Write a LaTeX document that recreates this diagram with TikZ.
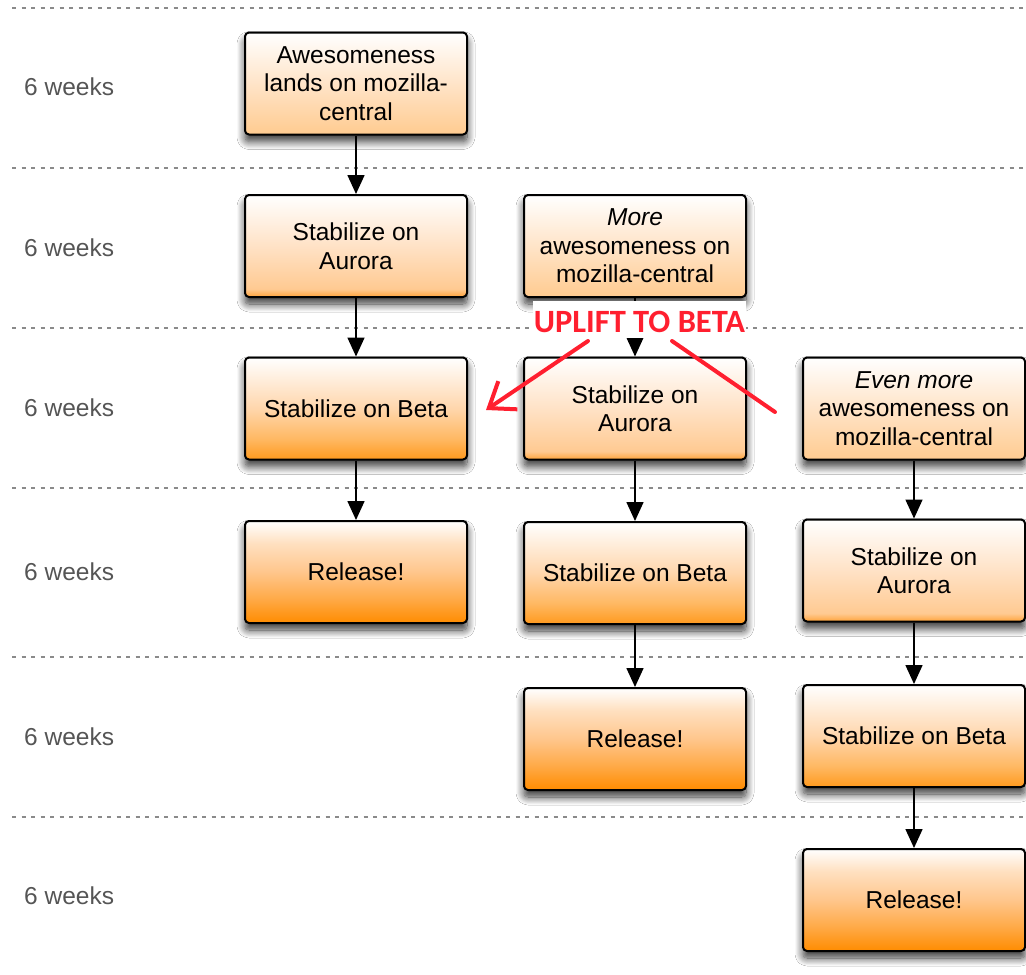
\documentclass[tikz,border=0pt]{standalone}
\usepackage{fontspec}
\setmainfont{Liberation Sans}
\newfontfamily\labelfont{Carlito}
\usetikzlibrary{arrows.meta,shadows.blur}
\definecolor{awbot}{HTML}{FFCB90}
\definecolor{awmid}{HTML}{FFE4C8}
\definecolor{aubot}{HTML}{FFA33A}
\definecolor{aulow}{HTML}{FFCA92}
\definecolor{aumid}{HTML}{FFE2C6}
\definecolor{bebot}{HTML}{FF9A1E}
\definecolor{below}{HTML}{FFB862}
\definecolor{bemid}{HTML}{FFD6AC}
\definecolor{rebot}{HTML}{FF8C00}
\definecolor{relow}{HTML}{FFAA48}
\definecolor{remid}{HTML}{FFC68C}
\definecolor{rehi}{HTML}{FFE0C0}
\definecolor{upred}{HTML}{FF1F2F}
\definecolor{wkgray}{HTML}{555555}
\definecolor{sepgray}{HTML}{8A8A8A}
\pgfdeclareverticalshading{awshade}{100bp}{color(0bp)=(awbot); color(25bp)=(awbot); color(50bp)=(awmid); color(75bp)=(white); color(100bp)=(white)}
\pgfdeclareverticalshading{aushade}{100bp}{color(0bp)=(aubot); color(25bp)=(aubot); color(29bp)=(aulow); color(50bp)=(aumid); color(75bp)=(white); color(100bp)=(white)}
\pgfdeclareverticalshading{beshade}{100bp}{color(0bp)=(bebot); color(25bp)=(bebot); color(35bp)=(below); color(50bp)=(bemid); color(75bp)=(white); color(100bp)=(white)}
\pgfdeclareverticalshading{reshade}{100bp}{color(0bp)=(rebot); color(25bp)=(rebot); color(37bp)=(relow); color(50bp)=(remid); color(64bp)=(rehi); color(75bp)=(white); color(100bp)=(white)}
\tikzset{
  box/.style={draw=black, line width=2pt, rounded corners=4pt,
    minimum width=222pt, minimum height=102pt, inner sep=0pt, align=center,
    font=\fontsize{24.5}{28.5}\selectfont,
    blur shadow={shadow xshift=0pt, shadow yshift=-7pt, shadow blur radius=8pt, shadow blur steps=12, shadow opacity=80}},
  awbox/.style={box, shading=awshade},
  aubox/.style={box, shading=aushade},
  bebox/.style={box, shading=beshade},
  rebox/.style={box, shading=reshade},
  wk/.style={anchor=west, inner sep=0pt, text=wkgray, font=\fontsize{24.5}{28.5}\selectfont},
  sep/.style={draw=sepgray, line width=1.5pt, dash pattern=on 4pt off 5.5pt},
  arr/.style={draw=black, line width=1.6pt, -{Triangle[length=19pt,width=17pt]}},
  redarr/.style={draw=upred, line width=4pt, line cap=round, -{Straight Barb[length=23pt,width=34pt,line width=4pt]}},
  redline/.style={draw=upred, line width=4pt, line cap=round}
}
\begin{document}
\begin{tikzpicture}[x=1pt,y=-1pt]
\useasboundingbox (0,0) rectangle (1026,975);
\fill[white] (0,0) rectangle (1026,975);
\foreach \yy in {8,168,328,488,657,817} \draw[sep] (12,\yy) -- (1026,\yy);
% week labels
\node[wk] (w1) at (24,87) {6 weeks};
\node[wk] (w2) at (24,248) {6 weeks};
\node[wk] (w3) at (24,408) {6 weeks};
\node[wk] (w4) at (24,572) {6 weeks};
\node[wk] (w5) at (24,737) {6 weeks};
\node[wk] (w6) at (24,896) {6 weeks};
% column 1
\node[awbox] (a1) at (356,83.5) {Awesomeness\\lands on mozilla-\\central};
\node[aubox] (a2) at (356,246) {Stabilize on\\Aurora};
\node[bebox] (a3) at (356,408.5) {Stabilize on Beta};
\node[rebox] (a4) at (356,572) {Release!};
% column 2
\node[awbox] (b2) at (635,246) {\textit{More}\\awesomeness on\\mozilla-central};
\node[aubox] (b3) at (635,408.5) {Stabilize on\\Aurora};
\node[bebox] (b4) at (635,573) {Stabilize on Beta};
\node[rebox] (b5) at (635,739) {Release!};
% column 3
\node[awbox] (c3) at (914,408.5) {\textit{Even more}\\awesomeness on\\mozilla-central};
\node[aubox] (c4) at (914,570.5) {Stabilize on\\Aurora};
\node[bebox] (c5) at (914,736) {Stabilize on Beta};
\node[rebox] (c6) at (914,900) {Release!};
% arrows
\draw[arr] (a1.south) -- (a2.north);
\draw[arr] (a2.south) -- (a3.north);
\draw[arr] (a3.south) -- (a4.north);
\draw[arr] (b2.south) -- (b3.north);
\draw[arr] (b3.south) -- (b4.north);
\draw[arr] (b4.south) -- (b5.north);
\draw[arr] (c3.south) -- (c4.north);
\draw[arr] (c4.south) -- (c5.north);
\draw[arr] (c5.south) -- (c6.north);
% uplift label
\fill[white] (533,301) rectangle (746,338);
\node[inner sep=0pt, text=upred, font=\labelfont\bfseries\fontsize{32.5}{32.5}\selectfont] (up) at (639.5,322) {UPLIFT TO BETA};
\coordinate (ls) at (588,341);
\coordinate (le) at (486,410);
\coordinate (rs) at (672,341);
\coordinate (re) at (775,412);
\draw[redarr] (ls) -- (le);
\draw[redline] (rs) -- (re);
\end{tikzpicture}
\end{document}
